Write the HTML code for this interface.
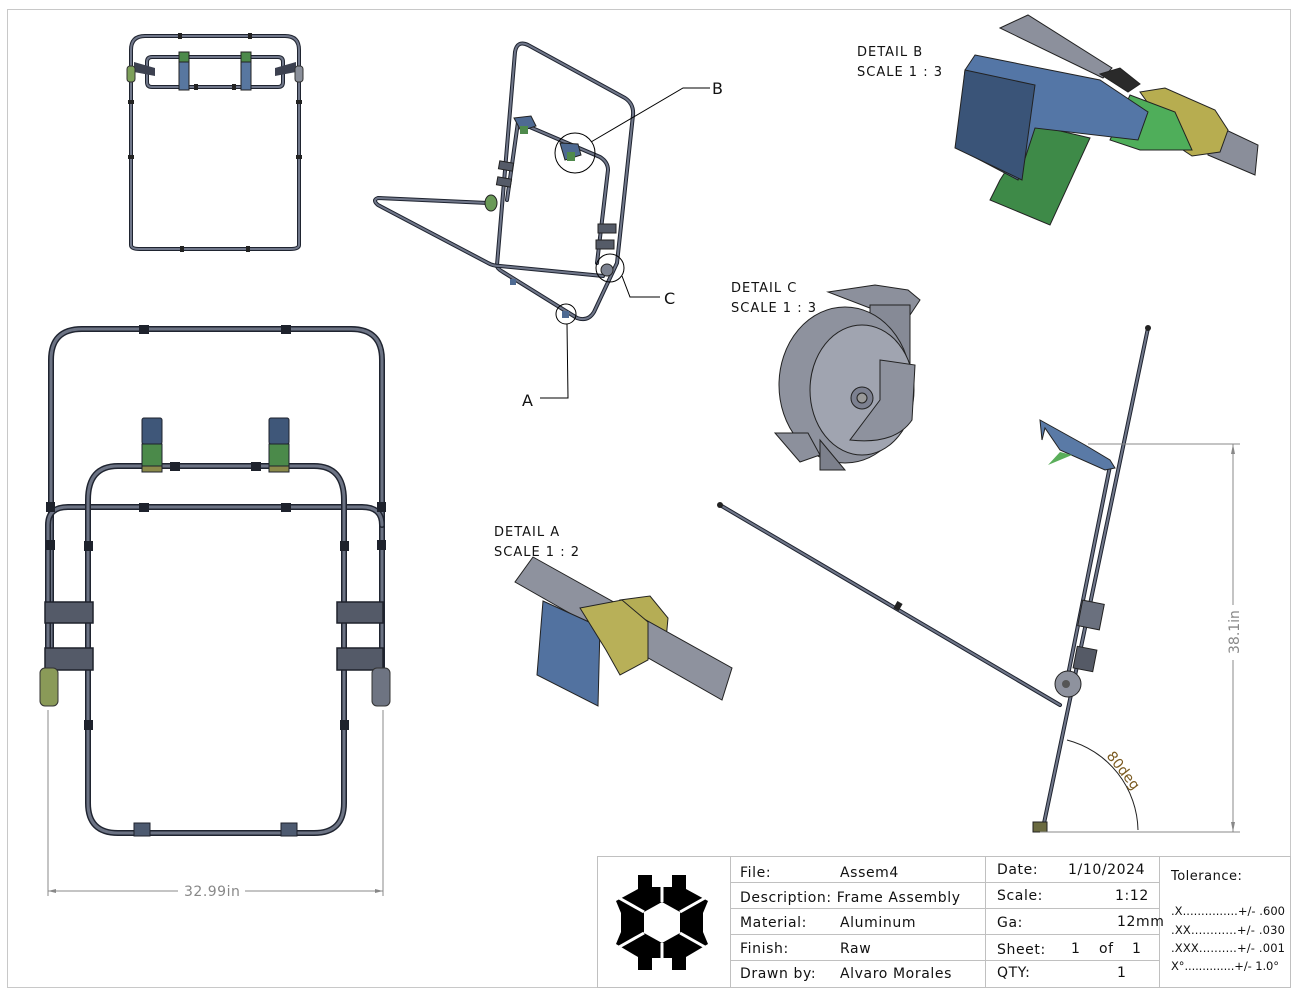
<!DOCTYPE html>
<html><head><meta charset="utf-8"><style>
html,body{margin:0;padding:0;background:#fff;}
svg{display:block;}
text{font-family:"DejaVu Sans","Liberation Sans",sans-serif;}
.t{stroke:#1f2430;stroke-width:6;fill:none;stroke-linecap:round;stroke-linejoin:round;}
.ti{stroke:#6c7384;stroke-width:3;fill:none;stroke-linecap:round;stroke-linejoin:round;}
.ts{stroke:#1f2430;stroke-width:4;fill:none;stroke-linecap:round;stroke-linejoin:round;}
.tsi{stroke:#70778a;stroke-width:2;fill:none;stroke-linecap:round;stroke-linejoin:round;}
.ln{stroke:#000;stroke-width:1;fill:none;}
.tb{font-size:14px;letter-spacing:0.6px;fill:#111;}
.dim{stroke:#888;stroke-width:1;fill:none;}
</style></head><body>
<svg width="1300" height="1000" viewBox="0 0 1300 1000" xmlns="http://www.w3.org/2000/svg">
<rect x="7.5" y="9.5" width="1283" height="978" fill="none" stroke="#c8c8c8" stroke-width="1"/>

<!-- Top small view -->
<g>
<path d="M131,245 L131,50 Q131,36 145,36 L285,36 Q299,36 299,50 L299,245 Q299,249 290,249 L140,249 Q131,249 131,245 Z" class="ts"/>
<path d="M131,245 L131,50 Q131,36 145,36 L285,36 Q299,36 299,50 L299,245 Q299,249 290,249 L140,249 Q131,249 131,245 Z" class="tsi"/>
<path d="M152,57 L278,57 Q283,57 283,62 L283,82 Q283,87 278,87 L152,87 Q147,87 147,82 L147,62 Q147,57 152,57 Z" class="ts"/>
<path d="M152,57 L278,57 Q283,57 283,62 L283,82 Q283,87 278,87 L152,87 Q147,87 147,82 L147,62 Q147,57 152,57 Z" class="tsi"/>
<path d="M134,62 L155,68 L155,76 L134,72 Z" fill="#3c4150"/><path d="M296,62 L275,68 L275,76 L296,72 Z" fill="#3c4150"/>
<rect x="127" y="66" width="8" height="16" rx="3" fill="#7da05a" stroke="#333"/>
<rect x="295" y="66" width="8" height="16" rx="3" fill="#8a8f9a" stroke="#333"/>
<rect x="179" y="52" width="10" height="10" fill="#4c8a4a" stroke="#222"/><rect x="179" y="62" width="10" height="28" fill="#5877a0" stroke="#222"/>
<rect x="241" y="52" width="10" height="10" fill="#4c8a4a" stroke="#222"/><rect x="241" y="62" width="10" height="28" fill="#5877a0" stroke="#222"/>
<g fill="#222"><rect x="178" y="33" width="4" height="6"/><rect x="248" y="33" width="4" height="6"/><rect x="128" y="100" width="6" height="4"/><rect x="296" y="100" width="6" height="4"/><rect x="128" y="155" width="6" height="4"/><rect x="296" y="155" width="6" height="4"/><rect x="180" y="246" width="4" height="6"/><rect x="246" y="246" width="4" height="6"/><rect x="194" y="84" width="4" height="6"/><rect x="232" y="84" width="4" height="6"/></g>
</g>

<!-- Front big view -->
<g>
<path d="M51,700 L51,360 Q51,329 82,329 L351,329 Q382,329 382,360 L382,700" class="t"/>
<path d="M51,700 L51,360 Q51,329 82,329 L351,329 Q382,329 382,360 L382,700" class="ti"/>
<path d="M48,700 L48,525 Q48,507 68,507 L362,507 Q382,507 382,525" class="t"/>
<path d="M48,700 L48,525 Q48,507 68,507 L362,507 Q382,507 382,525" class="ti"/>
<path d="M88,500 Q88,466 118,466 L314,466 Q344,466 344,500 L344,803 Q344,833 314,833 L118,833 Q88,833 88,803 Z" class="t"/>
<path d="M88,500 Q88,466 118,466 L314,466 Q344,466 344,500 L344,803 Q344,833 314,833 L118,833 Q88,833 88,803 Z" class="ti"/>
<g fill="#1e222c">
<rect x="139" y="325" width="10" height="9"/><rect x="281" y="325" width="10" height="9"/>
<rect x="139" y="503" width="10" height="9"/><rect x="281" y="503" width="10" height="9"/>
<rect x="170" y="462" width="10" height="9"/><rect x="251" y="462" width="10" height="9"/>
<rect x="46" y="502" width="9" height="10"/><rect x="377" y="502" width="9" height="10"/>
<rect x="84" y="541" width="9" height="10"/><rect x="340" y="541" width="9" height="10"/>
<rect x="84" y="720" width="9" height="10"/><rect x="340" y="720" width="9" height="10"/>
<rect x="46" y="540" width="9" height="10"/><rect x="377" y="540" width="9" height="10"/>
</g>
<g fill="#545a68" stroke="#1e222c" stroke-width="1.5">
<rect x="45" y="602" width="48" height="21"/><rect x="45" y="648" width="48" height="22"/>
<rect x="337" y="602" width="46" height="21"/><rect x="337" y="648" width="46" height="22"/>
</g>
<rect x="40" y="668" width="18" height="38" rx="5" fill="#8a9a58" stroke="#333"/>
<rect x="372" y="668" width="18" height="38" rx="5" fill="#6e7482" stroke="#333"/>
<rect x="142" y="418" width="20" height="26" rx="2" fill="#3f5779" stroke="#1e222c"/>
<rect x="142" y="444" width="20" height="22" fill="#4b8a4a" stroke="#1e222c"/>
<rect x="142" y="466" width="20" height="6" fill="#8a8a4a" stroke="#1e222c"/>
<rect x="269" y="418" width="20" height="26" rx="2" fill="#3f5779" stroke="#1e222c"/>
<rect x="269" y="444" width="20" height="22" fill="#4b8a4a" stroke="#1e222c"/>
<rect x="269" y="466" width="20" height="6" fill="#8a8a4a" stroke="#1e222c"/>
<rect x="134" y="823" width="16" height="13" fill="#4d5a70" stroke="#1e222c"/>
<rect x="281" y="823" width="16" height="13" fill="#4d5a70" stroke="#1e222c"/>
</g>
<line x1="48" y1="710" x2="48" y2="896" class="dim"/><line x1="383" y1="710" x2="383" y2="896" class="dim"/>
<line x1="48" y1="891" x2="178" y2="891" class="dim"/><line x1="245" y1="891" x2="383" y2="891" class="dim"/>
<path d="M48,891 l8,-2 v4 z M383,891 l-8,-2 v4 z" fill="#888"/>
<text x="184" y="896" font-size="14" fill="#888" letter-spacing="0.5">32.99in</text>

<!-- Isometric view -->
<g>
<path d="M497,265 L515,52 Q517,40 528,45 L625,98 Q634,104 633,115 L617,263 L594,312 Q588,322 577,318 L503,272 Q496,268 497,265 Z" class="ts"/>
<path d="M497,265 L515,52 Q517,40 528,45 L625,98 Q634,104 633,115 L617,263 L594,312 Q588,322 577,318 L503,272 Q496,268 497,265 Z" class="tsi"/>
<path d="M507,200 L518,122 L600,157 Q608,162 608,170 L597,263" class="ts"/>
<path d="M507,200 L518,122 L600,157 Q608,162 608,170 L597,263" class="tsi"/>
<path d="M488,203 L378,198 Q372,200 378,205 L488,263 Q493,266 500,266 L603,276" class="ts"/>
<path d="M488,203 L378,198 Q372,200 378,205 L488,263 Q493,266 500,266 L603,276" class="tsi"/>
<path d="M514,118 L531,116 L536,126 L521,131 Z" fill="#4e6a92" stroke="#222"/>
<rect x="520" y="126" width="8" height="8" fill="#4f8a4c"/>
<path d="M560,143 L578,144 L581,155 L565,160 Z" fill="#4e6a92" stroke="#222"/>
<rect x="567" y="152" width="8" height="9" fill="#4f8a4c"/>
<ellipse cx="491" cy="203" rx="6" ry="8" fill="#6a9a58" stroke="#222"/>
<rect x="499" y="162" width="14" height="8" fill="#555b68" stroke="#222" transform="rotate(10 506 166)"/>
<rect x="497" y="178" width="14" height="8" fill="#555b68" stroke="#222" transform="rotate(10 504 182)"/>
<rect x="598" y="224" width="18" height="9" fill="#555b68" stroke="#222"/>
<rect x="596" y="240" width="18" height="9" fill="#555b68" stroke="#222"/>
<circle cx="607" cy="270" r="6" fill="#7c8290" stroke="#222"/>
<rect x="510" y="279" width="6" height="6" fill="#4e6a92"/><rect x="562" y="311" width="7" height="7" fill="#4e6a92"/>
</g>
<circle cx="575" cy="153" r="20" class="ln" stroke-width="0.8"/>
<polyline points="591,142 683,88 710,88" class="ln"/>
<text x="712" y="94" font-size="16" fill="#111">B</text>
<circle cx="610" cy="268" r="14" class="ln" stroke-width="0.8"/>
<polyline points="622,276 630,297 660,297" class="ln"/>
<text x="664" y="304" font-size="16" fill="#111">C</text>
<circle cx="566" cy="314" r="10" class="ln" stroke-width="0.8"/>
<polyline points="567,324 568,398 540,398" class="ln"/>
<text x="522" y="406" font-size="16" fill="#111">A</text>

<!-- Detail B -->
<text x="857" y="56" font-size="13" fill="#111" letter-spacing="1">DETAIL  B</text>
<text x="857" y="76" font-size="13" fill="#111" letter-spacing="1">SCALE 1 : 3</text>
<g stroke="#222" stroke-width="1">
<polygon points="1000,28 1028,15 1112,68 1103,78" fill="#8c909c"/>
<polygon points="1205,128 1222,128 1258,145 1255,175 1208,155" fill="#8a8e9a"/>
<polygon points="1100,74 1120,68 1140,84 1128,92" fill="#2a2a2a"/>
<polygon points="1140,92 1165,88 1215,110 1228,130 1220,152 1192,156 1180,148" fill="#b7ad50"/>
<polygon points="1130,95 1175,112 1192,150 1140,150 1110,140" fill="#4fae5a"/>
<polygon points="1035,125 1090,138 1050,225 990,200 1000,180" fill="#3e8a48"/>
<polygon points="975,55 1100,80 1148,112 1138,140 1035,128 1018,180 957,148 965,70" fill="#5476a6"/>
<polygon points="965,70 1035,85 1022,180 955,148" fill="#3a5478"/>
</g>

<!-- Detail C -->
<text x="731" y="292" font-size="13" fill="#111" letter-spacing="1">DETAIL  C</text>
<text x="731" y="312" font-size="13" fill="#111" letter-spacing="1">SCALE 1 : 3</text>
<g stroke="#222" stroke-width="1">
<polygon points="828,292 875,285 908,290 920,300 908,318 875,310" fill="#8c909c"/>
<rect x="870" y="305" width="40" height="60" fill="#868a96"/>
<ellipse cx="845" cy="385" rx="66" ry="78" fill="#8e929e"/>
<ellipse cx="862" cy="390" rx="52" ry="65" fill="#a0a4b0"/>
<path d="M880,360 L915,365 L912,420 Q895,445 850,440 L880,400 Z" fill="#8e929e"/>
<circle cx="862" cy="398" r="11" fill="#7c8090"/><circle cx="862" cy="398" r="5" fill="#999"/>
<polygon points="775,433 808,433 820,455 800,462" fill="#8c909c"/>
<polygon points="820,440 845,470 820,470" fill="#7c808c"/>
</g>

<!-- Detail A -->
<text x="494" y="536" font-size="13" fill="#111" letter-spacing="1">DETAIL  A</text>
<text x="494" y="556" font-size="13" fill="#111" letter-spacing="1">SCALE 1 : 2</text>
<g stroke="#222" stroke-width="1">
<polygon points="620,600 650,596 668,618 666,640 640,628" fill="#b5ad55"/>
<polygon points="533,557 732,668 722,700 515,582" fill="#8e929e"/>
<polygon points="543,601 600,627 598,706 537,675" fill="#5272a0"/>
<polygon points="580,608 622,600 648,622 648,660 620,675 606,650" fill="#b8b058"/>
</g>

<!-- Right side view -->
<g>
<path d="M1148,328 L1043,828" class="ts"/><path d="M1148,328 L1043,828" class="tsi"/>
<path d="M1110,466 L1065,690" class="ts"/><path d="M1110,466 L1065,690" class="tsi"/>
<path d="M720,505 L1060,705" class="ts"/><path d="M720,505 L1060,705" class="tsi"/>
<circle cx="1148" cy="328" r="3" fill="#222"/>
<circle cx="720" cy="505" r="3" fill="#222"/>
<rect x="1080" y="602" width="22" height="26" fill="#6a707e" stroke="#222" transform="rotate(11 1091 615)"/>
<rect x="1075" y="648" width="20" height="22" fill="#555a66" stroke="#222" transform="rotate(11 1085 659)"/>
<circle cx="1068" cy="684" r="13" fill="#8e929e" stroke="#222"/><circle cx="1066" cy="684" r="4" fill="#555"/>
<polygon points="1040,420 1085,445 1110,460 1115,468 1105,470 1060,450 1045,428 1042,440" fill="#5a7aa6" stroke="#222"/>
<polygon points="1060,452 1048,465 1072,455" fill="#5aae5a"/>
<rect x="895" y="602" width="6" height="8" fill="#222" transform="rotate(30 898 606)"/>
<rect x="1033" y="822" width="14" height="10" fill="#6a6a40" stroke="#222"/>
</g>
<line x1="1088" y1="444" x2="1240" y2="444" class="dim"/>
<line x1="1040" y1="832" x2="1240" y2="832" class="dim"/>
<line x1="1233" y1="444" x2="1233" y2="605" class="dim"/><line x1="1233" y1="660" x2="1233" y2="832" class="dim"/>
<path d="M1233,444 l-2,10 h4 z M1233,832 l-2,-10 h4 z" fill="#888"/>
<text transform="translate(1239,654) rotate(-90)" font-size="14" fill="#888">38.1in</text>
<path d="M1067,740 A95,95 0 0 1 1138,830" stroke="#222" stroke-width="1" fill="none"/>
<text transform="translate(1106,756) rotate(52)" font-size="14" fill="#7a5a20">80deg</text>

<!-- Title block -->
<g stroke="#c0c0c0" stroke-width="1" fill="none">
<rect x="597.5" y="856.5" width="693" height="131"/>
<line x1="730.5" y1="857" x2="730.5" y2="988"/><line x1="985.5" y1="857" x2="985.5" y2="988"/><line x1="1159.5" y1="857" x2="1159.5" y2="988"/>
<line x1="730" y1="882.5" x2="1159" y2="882.5"/><line x1="730" y1="908.5" x2="1159" y2="908.5"/><line x1="730" y1="934.5" x2="1159" y2="934.5"/><line x1="730" y1="960.5" x2="1159" y2="960.5"/>
</g>
<polygon points="638,875 652,875 652,887 672,887 672,875 686,875 686,889 708,901 703,913 703,932 708,944 686,957 686,970 672,970 672,958 652,958 652,970 638,970 638,957 616,944 621,932 621,913 616,901 638,889" fill="#000"/>
<polygon points="662,902 680,912 680,933 662,943 644,933 644,912" fill="#fff"/>
<g stroke="#fff" stroke-width="3">
<line x1="662" y1="870" x2="662" y2="902"/><line x1="662" y1="943" x2="662" y2="975"/>
<line x1="680" y1="912" x2="712" y2="894"/><line x1="644" y1="912" x2="612" y2="894"/>
<line x1="680" y1="933" x2="712" y2="951"/><line x1="644" y1="933" x2="612" y2="951"/>
</g>
<g class="tb">
<text x="740" y="877">File:</text><text x="840" y="877">Assem4</text>
<text x="740" y="902">Description: Frame Assembly</text>
<text x="740" y="927">Material:</text><text x="840" y="927">Aluminum</text>
<text x="740" y="953">Finish:</text><text x="840" y="953">Raw</text>
<text x="740" y="978">Drawn by:</text><text x="840" y="978">Alvaro Morales</text>
<text x="997" y="874">Date:</text><text x="1068" y="874">1/10/2024</text>
<text x="997" y="900">Scale:</text><text x="1115" y="900">1:12</text>
<text x="997" y="927">Ga:</text><text x="1117" y="926">12mm</text>
<text x="997" y="954">Sheet:</text><text x="1071" y="953">1</text><text x="1099" y="953">of</text><text x="1132" y="953">1</text>
<text x="997" y="977">QTY:</text><text x="1117" y="977">1</text>
</g>
<g font-size="11.5" fill="#111">
<text x="1171" y="880" font-size="13" letter-spacing="0.5">Tolerance:</text>
<text x="1171" y="915" textLength="114">.X...............+/- .600</text>
<text x="1171" y="934" textLength="114">.XX............+/- .030</text>
<text x="1171" y="952" textLength="114">.XXX..........+/- .001</text>
<text x="1171" y="970" textLength="108">X°..............+/- 1.0°</text>
</g>
</svg>
</body></html>
